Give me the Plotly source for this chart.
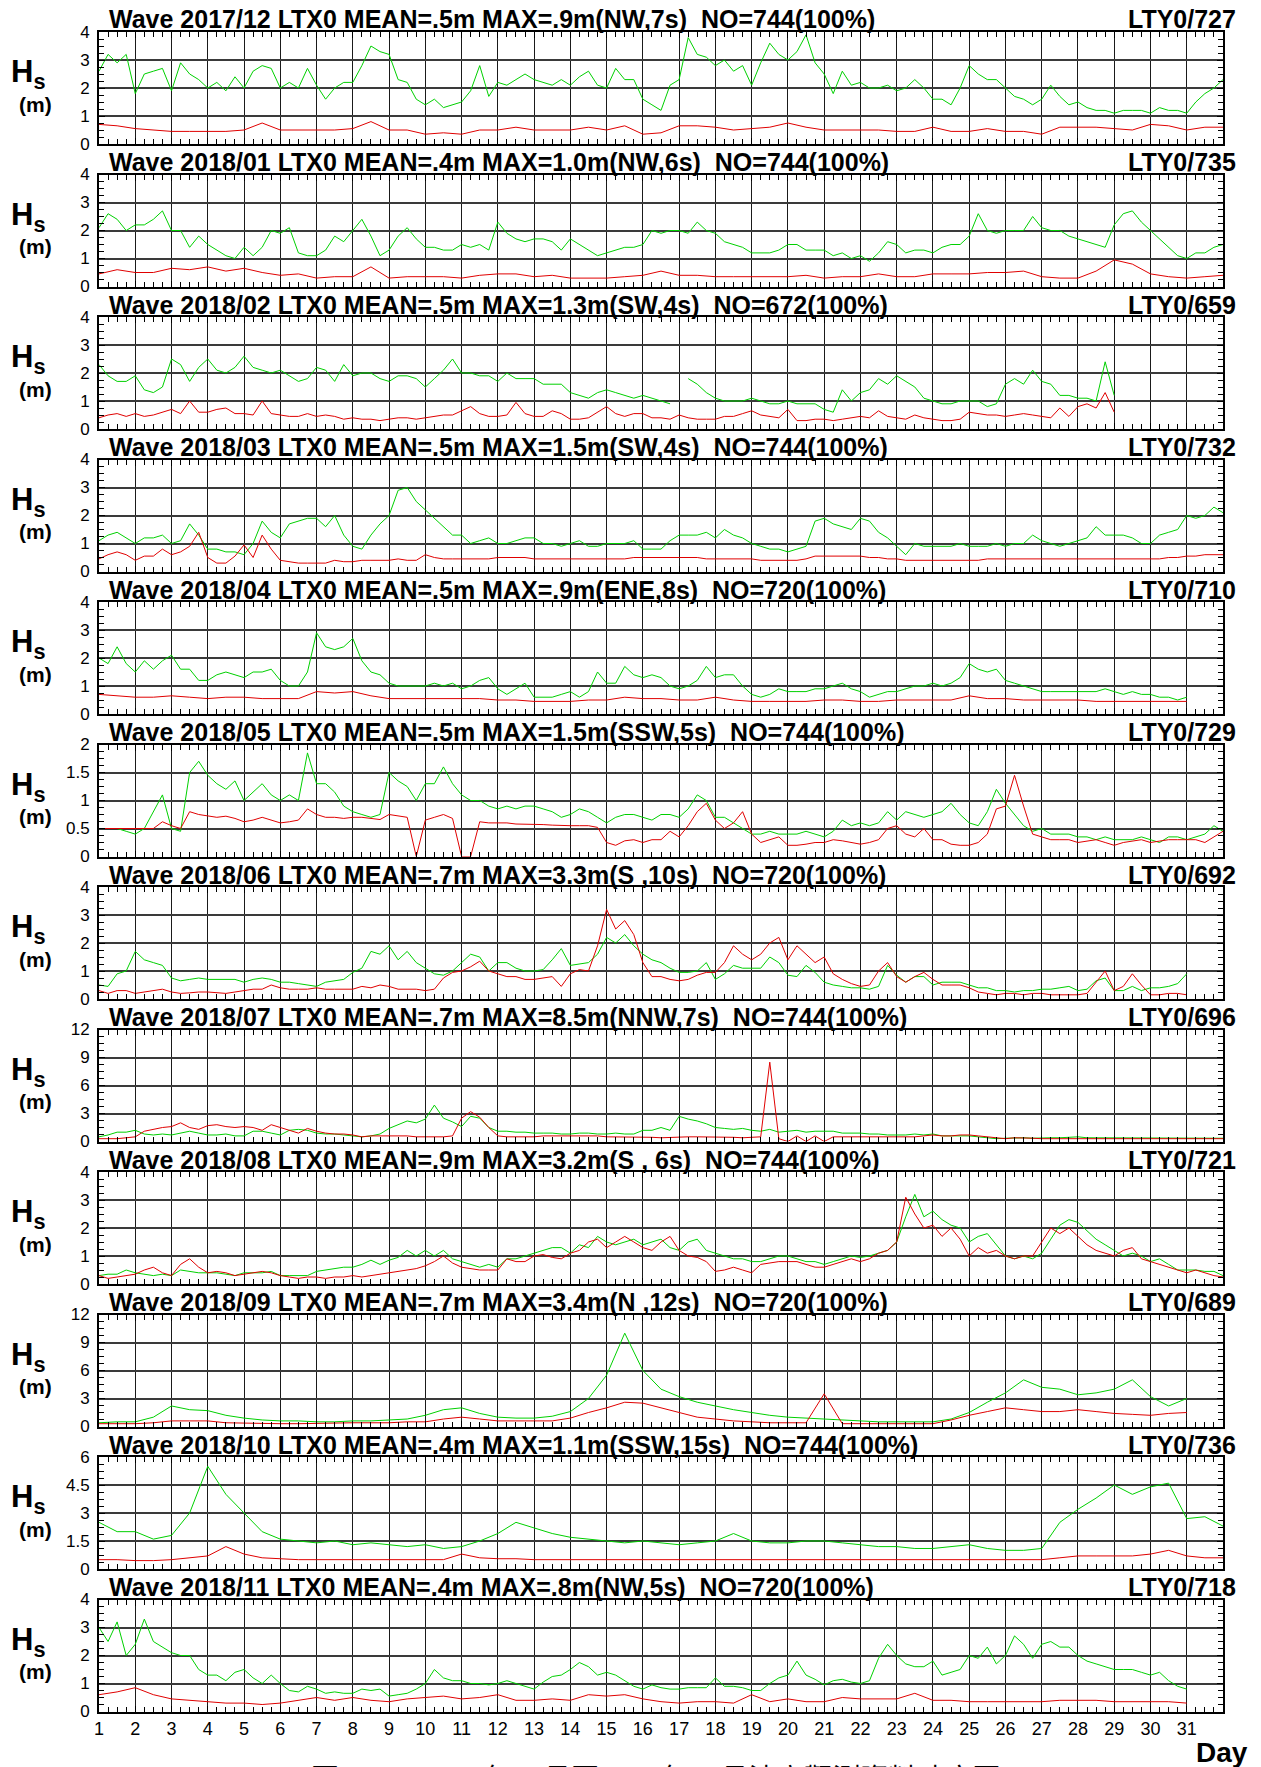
import numpy as np
import plotly.graph_objects as go

# the page body keeps its default 8px margin, so the figure starts at page (8, 8)
OFF = 8
W, H = 1261 - OFF, 1767 - OFF

# ---- panel text ----
LEFT_TITLES = [
    "Wave 2017/12 LTX0 MEAN=.5m MAX=.9m(NW,7s)\u00a0 NO=744(100%)",
    "Wave 2018/01 LTX0 MEAN=.4m MAX=1.0m(NW,6s)\u00a0 NO=744(100%)",
    "Wave 2018/02 LTX0 MEAN=.5m MAX=1.3m(SW,4s)\u00a0 NO=672(100%)",
    "Wave 2018/03 LTX0 MEAN=.5m MAX=1.5m(SW,4s)\u00a0 NO=744(100%)",
    "Wave 2018/04 LTX0 MEAN=.5m MAX=.9m(ENE,8s)\u00a0 NO=720(100%)",
    "Wave 2018/05 LTX0 MEAN=.5m MAX=1.5m(SSW,5s)\u00a0 NO=744(100%)",
    "Wave 2018/06 LTX0 MEAN=.7m MAX=3.3m(S ,10s)\u00a0 NO=720(100%)",
    "Wave 2018/07 LTX0 MEAN=.7m MAX=8.5m(NNW,7s)\u00a0 NO=744(100%)",
    "Wave 2018/08 LTX0 MEAN=.9m MAX=3.2m(S , 6s)\u00a0 NO=744(100%)",
    "Wave 2018/09 LTX0 MEAN=.7m MAX=3.4m(N ,12s)\u00a0 NO=720(100%)",
    "Wave 2018/10 LTX0 MEAN=.4m MAX=1.1m(SSW,15s)\u00a0 NO=744(100%)",
    "Wave 2018/11 LTX0 MEAN=.4m MAX=.8m(NW,5s)\u00a0 NO=720(100%)",
]
RIGHT_TITLES = ["LTY0/727", "LTY0/735", "LTY0/659", "LTY0/732", "LTY0/710", "LTY0/729",
                "LTY0/692", "LTY0/696", "LTY0/721", "LTY0/689", "LTY0/736", "LTY0/718"]
CAPTION = "圖 4.2-1\u00a0\u00a02017年12月至2018年11月波高觀測資料時序圖"

Y_MAX = [4, 4, 4, 4, 4, 2, 4, 12, 4, 12, 6, 4]
Y_TICK_STEP = [1, 1, 1, 1, 1, 0.5, 1, 3, 1, 3, 1.5, 1]
DAY_TICKS = list(range(1, 32))

# ---- series (day 1.0 onward, fixed sampling step per series) ----
G_2017_12 = [2.6, 3.2, 2.9, 3.2, 1.8, 2.5, 2.6, 2.7, 1.9, 2.9, 2.5, 2.3, 2.0, 2.2, 1.9, 2.4,
             2.0, 2.6, 2.8, 2.7, 2.0, 2.2, 2.0, 2.7, 2.1, 1.6, 2.0, 2.2, 2.2, 2.8, 3.5, 3.3,
             3.2, 2.3, 2.2, 1.6, 1.4, 1.6, 1.3, 1.4, 1.5, 1.9, 2.8, 1.7, 2.2, 2.1, 2.3, 2.5,
             2.3, 2.2, 2.1, 2.3, 2.1, 2.4, 2.6, 2.1, 2.0, 2.7, 2.3, 2.3, 1.6, 1.4, 1.2, 2.1,
             2.3, 3.8, 3.2, 3.1, 2.8, 3.0, 2.6, 2.8, 2.1, 2.9, 3.6, 3.2, 3.0, 3.3, 3.9, 2.9,
             2.5, 1.8, 2.6, 2.1, 2.2, 2.0, 2.0, 2.1, 1.9, 2.0, 2.3, 2.0, 1.6, 1.6, 1.4, 2.0,
             2.8, 2.5, 2.3, 2.3, 2.0, 1.7, 1.6, 1.4, 1.6, 2.1, 1.7, 1.4, 1.5, 1.3, 1.2, 1.2,
             1.1, 1.2, 1.2, 1.2, 1.1, 1.3, 1.2, 1.2, 1.1, 1.5, 1.8, 2.0, 2.3]
R_2017_12 = [0.7, 0.65, 0.55, 0.5, 0.45, 0.45, 0.45, 0.45, 0.5, 0.75, 0.5, 0.5, 0.5, 0.5, 0.55, 0.8,
             0.5, 0.5, 0.35, 0.4, 0.35, 0.5, 0.5, 0.6, 0.5, 0.5, 0.5, 0.6, 0.5, 0.65, 0.35, 0.4,
             0.65, 0.65, 0.6, 0.5, 0.55, 0.6, 0.75, 0.6, 0.5, 0.5, 0.5, 0.5, 0.45, 0.45, 0.6, 0.45,
             0.45, 0.55, 0.45, 0.45, 0.35, 0.6, 0.6, 0.6, 0.55, 0.5, 0.7, 0.65, 0.5, 0.6, 0.6]

G_2018_01 = [2.1, 2.6, 2.4, 2.0, 2.2, 2.2, 2.4, 2.7, 2.0, 2.0, 1.4, 1.8, 1.5, 1.3, 1.1, 1.0,
             1.4, 1.1, 1.4, 2.0, 1.9, 2.1, 1.2, 1.1, 1.1, 1.3, 1.8, 1.6, 2.0, 2.4, 1.8, 1.1,
             1.3, 1.8, 2.1, 1.7, 1.4, 1.4, 1.3, 1.3, 1.5, 1.4, 1.5, 1.3, 2.3, 1.9, 1.7, 1.6,
             1.7, 1.7, 1.6, 1.3, 1.7, 1.5, 1.3, 1.1, 1.2, 1.3, 1.4, 1.4, 1.5, 2.0, 1.9, 2.0,
             2.0, 1.9, 2.3, 2.0, 1.9, 1.6, 1.5, 1.4, 1.2, 1.2, 1.2, 1.3, 1.5, 1.5, 1.3, 1.3,
             1.3, 1.1, 1.2, 1.0, 1.1, 0.9, 1.2, 1.6, 1.5, 1.2, 1.3, 1.3, 1.2, 1.4, 1.5, 1.5,
             1.8, 2.6, 2.0, 1.9, 2.0, 2.0, 2.0, 2.5, 2.1, 2.0, 2.0, 1.8, 1.7, 1.6, 1.5, 1.4,
             2.2, 2.6, 2.7, 2.3, 2.0, 1.7, 1.4, 1.1, 1.0, 1.2, 1.2, 1.4, 1.5]
R_2018_01 = [0.45, 0.6, 0.5, 0.5, 0.65, 0.6, 0.7, 0.55, 0.65, 0.5, 0.4, 0.45, 0.3, 0.35, 0.35, 0.7,
             0.3, 0.35, 0.35, 0.35, 0.3, 0.4, 0.45, 0.45, 0.35, 0.4, 0.3, 0.3, 0.3, 0.35, 0.4, 0.55,
             0.4, 0.4, 0.35, 0.35, 0.35, 0.35, 0.35, 0.4, 0.3, 0.35, 0.35, 0.45, 0.35, 0.35, 0.45, 0.45,
             0.45, 0.5, 0.5, 0.55, 0.35, 0.3, 0.3, 0.55, 0.95, 0.8, 0.45, 0.35, 0.3, 0.35, 0.4]

G_2018_02 = [2.3, 1.9, 1.7, 1.7, 1.9, 1.4, 1.3, 1.5, 2.5, 2.3, 1.7, 2.2, 2.5, 2.1, 2.0, 2.2,
             2.6, 2.2, 2.1, 2.0, 2.1, 1.9, 1.7, 1.8, 2.2, 2.1, 1.7, 2.3, 1.9, 2.0, 2.0, 1.8,
             1.7, 1.9, 1.9, 1.8, 1.5, 1.8, 2.1, 2.5, 2.0, 2.0, 1.9, 1.9, 1.7, 2.0, 1.8, 1.8,
             1.8, 1.6, 1.6, 1.6, 1.3, 1.2, 1.1, 1.3, 1.4, 1.3, 1.2, 1.1, 1.2, 1.1, 1.0, 0.9,
             None, 1.8, 1.6, 1.3, 1.1, 1.0, 1.0, 1.0, 1.1, 1.0, 0.9, 0.9, 1.0, 0.9, 0.9, 0.9,
             0.7, 0.6, 1.4, 1.0, 1.3, 1.4, 1.8, 1.6, 1.9, 1.7, 1.5, 1.1, 1.0, 0.9, 0.9, 1.0,
             1.0, 1.0, 0.8, 0.9, 1.6, 1.8, 1.6, 2.1, 1.7, 1.6, 1.2, 1.2, 1.1, 1.1, 1.0, 2.4, 1.2]
R_2018_02 = [0.4, 0.5, 0.55, 0.45, 0.55, 0.45, 0.5, 0.6, 0.7, 0.55, 1.0, 0.6, 0.6, 0.7, 0.75, 0.55,
             0.55, 0.5, 1.0, 0.55, 0.5, 0.45, 0.45, 0.55, 0.45, 0.5, 0.45, 0.35, 0.4, 0.35, 0.35, 0.3,
             0.35, 0.4, 0.4, 0.35, 0.4, 0.45, 0.5, 0.5, 0.65, 0.8, 0.55, 0.45, 0.45, 0.5, 0.95, 0.55,
             0.45, 0.45, 0.65, 0.55, 0.35, 0.35, 0.4, 0.6, 0.8, 0.55, 0.45, 0.55, 0.55, 0.4, 0.4, 0.35,
             0.5, 0.4, 0.35, 0.35, 0.35, 0.45, 0.45, 0.55, 0.65, 0.5, 0.45, 0.4, 0.7, 0.3, 0.3, 0.35,
             0.35, 0.3, 0.35, 0.4, 0.45, 0.4, 0.65, 0.45, 0.4, 0.35, 0.5, 0.4, 0.35, 0.3, 0.3, 0.35,
             0.6, 0.55, 0.5, 0.5, 0.45, 0.5, 0.55, 0.5, 0.45, 0.4, 0.75, 0.45, 0.8, 0.9, 0.75, 1.3, 0.6]

G_2018_03 = [1.1, 1.3, 1.4, 1.2, 1.0, 1.2, 1.2, 1.3, 1.0, 1.1, 1.7, 1.3, 0.8, 0.8, 0.7, 0.7,
             0.6, 1.0, 1.8, 1.4, 1.2, 1.7, 1.8, 1.9, 1.9, 1.6, 2.0, 1.3, 0.9, 0.8, 1.3, 1.7,
             2.0, 2.9, 3.0, 2.5, 2.2, 1.9, 1.6, 1.3, 1.3, 1.0, 1.1, 1.2, 1.0, 1.0, 1.1, 1.2,
             1.2, 1.0, 1.0, 0.9, 1.0, 1.1, 0.9, 0.9, 1.0, 1.0, 1.0, 1.1, 0.8, 0.8, 0.8, 1.1,
             1.3, 1.3, 1.3, 1.4, 1.2, 1.5, 1.3, 1.2, 1.0, 0.9, 0.8, 0.8, 0.7, 0.8, 0.9, 1.8,
             1.9, 1.7, 1.6, 1.5, 1.9, 1.8, 1.4, 1.2, 0.9, 0.6, 1.0, 0.9, 0.9, 0.9, 0.9, 1.0,
             0.9, 0.9, 0.9, 1.0, 0.9, 1.0, 1.0, 1.3, 1.1, 1.0, 0.9, 1.0, 1.1, 1.2, 1.6, 1.3,
             1.3, 1.3, 1.2, 1.0, 1.0, 1.3, 1.4, 1.5, 2.0, 1.9, 2.0, 2.3, 2.1]
R_2018_03 = [0.45, 0.6, 0.7, 0.6, 0.4, 0.55, 0.55, 0.8, 0.6, 0.7, 0.9, 1.4, 0.5, 0.3, 0.3, 0.55,
             0.95, 0.5, 1.3, 0.8, 0.4, 0.35, 0.3, 0.3, 0.3, 0.3, 0.4, 0.35, 0.35, 0.4, 0.4, 0.4,
             0.4, 0.45, 0.4, 0.4, 0.6, 0.5, 0.45, 0.45, 0.45, 0.45, 0.45, 0.45, 0.5, 0.5, 0.5, 0.5,
             0.45, 0.45, 0.45, 0.45, 0.45, 0.45, 0.45, 0.45, 0.45, 0.45, 0.45, 0.5, 0.5, 0.5, 0.5, 0.5,
             0.5, 0.5, 0.5, 0.45, 0.45, 0.45, 0.45, 0.45, 0.45, 0.4, 0.4, 0.4, 0.4, 0.4, 0.45, 0.55,
             0.55, 0.55, 0.55, 0.55, 0.55, 0.5, 0.5, 0.45, 0.45, 0.4, 0.4, 0.4, 0.4, 0.4, 0.4, 0.4,
             0.4, 0.4, 0.45, 0.45, 0.45, 0.45, 0.45, 0.45, 0.45, 0.45, 0.45, 0.45, 0.45, 0.45, 0.45, 0.45,
             0.45, 0.45, 0.45, 0.45, 0.45, 0.45, 0.5, 0.5, 0.55, 0.55, 0.6, 0.6, 0.6]

G_2018_04 = [2.0, 1.8, 2.4, 1.8, 1.5, 1.9, 1.6, 1.9, 2.1, 1.6, 1.6, 1.2, 1.2, 1.4, 1.5, 1.4,
             1.3, 1.5, 1.5, 1.6, 1.2, 1.0, 1.0, 1.5, 2.9, 2.4, 2.3, 2.4, 2.7, 1.9, 1.5, 1.4,
             1.1, 1.0, 1.0, 1.0, 1.0, 1.1, 1.0, 1.1, 0.9, 1.0, 1.2, 1.3, 0.9, 0.7, 0.9, 1.1,
             0.6, 0.6, 0.6, 0.7, 0.8, 0.6, 0.8, 1.5, 1.1, 1.1, 1.7, 1.4, 1.3, 1.4, 1.3, 1.0,
             0.9, 1.0, 1.2, 1.7, 1.3, 1.4, 1.4, 1.0, 0.7, 0.6, 0.7, 0.9, 0.8, 0.8, 0.8, 0.9,
             0.9, 1.0, 1.1, 0.9, 0.8, 0.6, 0.7, 0.8, 0.8, 0.9, 1.0, 1.0, 1.1, 1.0, 1.1, 1.3,
             1.8, 1.6, 1.5, 1.6, 1.2, 1.1, 1.0, 0.9, 0.8, 0.8, 0.8, 0.8, 0.8, 0.8, 0.8, 0.9,
             0.8, 0.7, 0.8, 0.7, 0.7, 0.6, 0.6, 0.5, 0.6]
R_2018_04 = [0.7, 0.65, 0.6, 0.6, 0.65, 0.6, 0.55, 0.6, 0.6, 0.55, 0.55, 0.55, 0.8, 0.75, 0.8, 0.65,
             0.55, 0.55, 0.55, 0.55, 0.55, 0.55, 0.5, 0.5, 0.45, 0.45, 0.45, 0.5, 0.5, 0.6, 0.55, 0.55,
             0.5, 0.5, 0.6, 0.5, 0.45, 0.45, 0.45, 0.45, 0.5, 0.5, 0.45, 0.45, 0.5, 0.5, 0.5, 0.5,
             0.65, 0.55, 0.55, 0.5, 0.5, 0.5, 0.5, 0.45, 0.45, 0.45, 0.45, 0.45, 0.45]

G_2018_05 = [0.5, 0.5, 0.5, 0.45, 0.4, 0.5, 0.8, 1.1, 0.5, 0.45, 1.5, 1.7, 1.45, 1.3, 1.2, 1.35,
             1.0, 1.15, 1.3, 1.1, 1.0, 1.1, 1.0, 1.85, 1.3, 1.3, 1.15, 0.9, 0.8, 0.75, 0.7, 0.75,
             1.5, 1.35, 1.25, 1.0, 1.3, 1.3, 1.6, 1.3, 1.1, 1.0, 1.0, 0.9, 0.85, 0.9, 0.85, 0.9,
             0.9, 0.85, 0.8, 0.7, 0.75, 0.85, 0.8, 0.7, 0.6, 0.7, 0.75, 0.75, 0.7, 0.65, 0.75, 0.75,
             0.7, 0.85, 1.1, 1.0, 0.7, 0.7, 0.6, 0.5, 0.4, 0.4, 0.45, 0.4, 0.4, 0.4, 0.45, 0.4,
             0.35, 0.45, 0.65, 0.55, 0.6, 0.55, 0.6, 0.8, 0.65, 0.8, 0.75, 0.7, 0.75, 0.8, 0.95, 0.75,
             0.6, 0.55, 0.8, 1.2, 0.95, 0.75, 0.55, 0.45, 0.5, 0.4, 0.4, 0.4, 0.35, 0.35, 0.3, 0.35,
             0.3, 0.3, 0.3, 0.35, 0.3, 0.25, 0.35, 0.35, 0.3, 0.35, 0.4, 0.55, 0.45]
R_2018_05 = [0.5, 0.5, 0.5, 0.5, 0.5, 0.5, 0.5, 0.62, 0.55, 0.5, 0.8, 0.75, 0.72, 0.7, 0.72, 0.68,
             0.62, 0.65, 0.7, 0.65, 0.6, 0.62, 0.65, 0.85, 0.75, 0.7, 0.7, 0.68, 0.7, 0.7, 0.68, 0.66,
             0.75, 0.72, 0.7, 0.0, 0.65, 0.7, 0.75, 0.68, 0.0, 0.0, 0.62, 0.6, 0.6, 0.6, 0.58, 0.58,
             0.58, 0.57, 0.56, 0.55, 0.55, 0.55, 0.55, 0.52, 0.25, 0.2, 0.28, 0.3, 0.25, 0.3, 0.3, 0.45,
             0.35, 0.55, 0.8, 0.95, 0.65, 0.5, 0.6, 0.8, 0.4, 0.25, 0.3, 0.35, 0.2, 0.2, 0.22, 0.25,
             0.25, 0.3, 0.28, 0.25, 0.22, 0.25, 0.3, 0.5, 0.55, 0.4, 0.35, 0.5, 0.3, 0.3, 0.22, 0.2,
             0.2, 0.25, 0.4, 0.85, 0.9, 1.45, 0.9, 0.4, 0.35, 0.3, 0.3, 0.3, 0.25, 0.28, 0.3, 0.25,
             0.2, 0.25, 0.28, 0.3, 0.25, 0.28, 0.3, 0.3, 0.3, 0.3, 0.25, 0.35, 0.45]

G_2018_06 = [0.5, 0.45, 0.9, 1.0, 1.7, 1.4, 1.3, 1.2, 0.75, 0.65, 0.7, 0.75, 0.7, 0.7, 0.7, 0.7,
             0.6, 0.7, 0.75, 0.7, 0.6, 0.6, 0.55, 0.5, 0.45, 0.6, 0.65, 0.7, 0.95, 1.1, 1.7, 1.6,
             1.9, 1.4, 1.7, 1.3, 1.1, 0.9, 0.85, 1.0, 1.3, 1.6, 1.5, 1.0, 1.3, 1.3, 1.1, 1.0,
             1.0, 1.05, 1.4, 1.8, 1.2, 1.25, 1.3, 1.6, 2.2, 2.0, 2.3, 1.9, 1.6, 1.4, 1.3, 1.1,
             0.95, 0.95, 1.0, 1.3, 0.7, 0.9, 1.2, 1.1, 1.1, 1.1, 1.5, 1.3, 0.85, 0.8, 1.2, 0.95,
             0.6, 0.5, 0.45, 0.4, 0.4, 0.35, 0.45, 1.2, 0.85, 0.6, 0.8, 0.8, 0.5, 0.6, 0.6, 0.6,
             0.5, 0.4, 0.4, 0.3, 0.3, 0.25, 0.3, 0.3, 0.35, 0.35, 0.4, 0.45, 0.3, 0.35, 0.65, 0.75,
             0.3, 0.3, 0.45, 0.3, 0.4, 0.4, 0.45, 0.55, 0.9]
R_2018_06 = [0.3, 0.2, 0.3, 0.3, 0.2, 0.25, 0.3, 0.35, 0.25, 0.2, 0.22, 0.25, 0.25, 0.22, 0.2, 0.25,
             0.3, 0.35, 0.35, 0.5, 0.4, 0.35, 0.35, 0.35, 0.4, 0.35, 0.35, 0.35, 0.35, 0.45, 0.4, 0.5,
             0.45, 0.35, 0.35, 0.35, 0.3, 0.35, 0.75, 0.95, 1.0, 1.15, 1.35, 1.0, 0.9, 0.8, 0.8, 0.7,
             0.7, 0.75, 0.8, 0.45, 0.9, 1.05, 1.0, 1.9, 3.2, 2.5, 2.8, 2.3, 1.3, 0.8, 0.8, 0.7,
             0.65, 0.7, 0.85, 0.95, 0.95, 1.3, 1.9, 1.6, 1.4, 1.6, 2.0, 2.2, 1.4, 1.9, 1.6, 1.3,
             1.5, 0.9, 0.7, 0.55, 0.45, 0.5, 1.0, 1.3, 0.8, 0.6, 0.8, 0.95, 0.7, 0.5, 0.5, 0.5,
             0.4, 0.25, 0.2, 0.15, 0.2, 0.2, 0.15, 0.2, 0.2, 0.15, 0.15, 0.15, 0.15, 0.2, 0.6, 1.0,
             0.3, 0.45, 0.9, 0.5, 0.15, 0.15, 0.2, 0.2, 0.15]

G_2018_07 = [0.5, 0.7, 1.0, 1.0, 1.2, 0.8, 0.7, 0.8, 0.7, 0.9, 1.1, 0.9, 0.7, 0.7, 0.8, 0.6,
             0.6, 1.1, 1.1, 0.9, 0.7, 1.2, 1.3, 1.2, 0.9, 0.8, 0.8, 0.7, 0.6, 0.5, 0.6, 0.8,
             1.4, 1.8, 2.2, 2.0, 2.4, 3.9, 2.5, 2.1, 1.6, 2.7, 2.5, 1.5, 1.1, 1.1, 1.0, 1.0,
             0.9, 0.9, 0.9, 0.8, 0.8, 0.9, 0.9, 0.8, 0.8, 0.9, 0.8, 0.8, 1.2, 1.2, 1.5, 1.2,
             2.7, 2.4, 2.2, 1.9, 1.5, 1.4, 1.3, 1.4, 1.2, 1.1, 1.3, 1.0, 1.1, 1.2, 1.0, 1.1,
             1.1, 1.1, 0.9, 0.9, 0.9, 0.8, 0.8, 0.7, 0.7, 0.7, 0.8, 0.7, 0.8, 0.6, 0.6, 0.6,
             0.6, 0.5, 0.4, 0.3, 0.35, 0.4, 0.4, 0.35, 0.4, 0.4, 0.4, 0.45, 0.5, 0.4, 0.4, 0.35,
             0.35, 0.4, 0.4, 0.4, 0.35, 0.35, 0.35, 0.35, 0.35, 0.35, 0.35, 0.35, 0.35]
R_2018_07 = [0.3, 0.3, 0.3, 0.4, 0.5, 1.1, 1.3, 1.5, 1.6, 2.0, 1.5, 1.3, 1.7, 1.8, 1.6, 1.5,
             1.6, 1.5, 1.2, 1.8, 1.5, 1.2, 0.9, 1.4, 1.1, 0.9, 0.8, 0.8, 0.7, 0.5, 0.6, 0.6,
             0.6, 0.6, 0.6, 0.5, 0.5, 0.5, 0.5, 0.6, 2.5, 3.2, 2.6, 1.5, 0.6, 0.5, 0.5, 0.5,
             0.5, 0.6, 0.6, 0.6, 0.6, 0.6, 0.6, 0.6, 0.5, 0.5, 0.5, 0.5, 0.45, 0.45, 0.4, 0.45,
             0.5, 0.5, 0.5, 0.5, 0.5, 0.5, 0.45, 0.4, 0.45, 0.5, 8.5, 0.3, 0.0, 0.6, 0.0, 0.6,
             0.0, 0.5, 0.5, 0.5, 0.5, 0.5, 0.5, 0.5, 0.5, 0.5, 0.5, 0.6, 0.7, 0.6, 0.6, 0.7,
             0.7, 0.6, 0.5, 0.4, 0.3, 0.4, 0.4, 0.35, 0.3, 0.3, 0.3, 0.3, 0.3, 0.3, 0.3, 0.3,
             0.3, 0.3, 0.3, 0.3, 0.25, 0.25, 0.3, 0.3, 0.3, 0.3, 0.3, 0.3, 0.3]

G_2018_08 = [0.3, 0.35, 0.35, 0.5, 0.4, 0.35, 0.3, 0.35, 0.3, 0.5, 0.45, 0.4, 0.4, 0.4, 0.35, 0.3,
             0.4, 0.4, 0.4, 0.45, 0.3, 0.3, 0.3, 0.3, 0.45, 0.5, 0.55, 0.6, 0.6, 0.7, 0.85, 0.7,
             0.85, 0.95, 1.2, 1.0, 1.2, 1.0, 1.2, 0.9, 0.8, 0.7, 0.6, 0.7, 0.6, 0.9, 0.9, 1.0,
             1.1, 1.2, 1.3, 1.3, 1.1, 1.4, 1.3, 1.7, 1.5, 1.4, 1.5, 1.6, 1.4, 1.5, 1.6, 1.3,
             1.2, 1.5, 1.6, 1.2, 1.1, 1.0, 0.9, 0.9, 0.8, 0.8, 0.9, 1.0, 1.0, 0.9, 0.8, 0.8,
             0.7, 0.8, 0.9, 1.0, 0.95, 1.0, 1.1, 1.2, 1.5, 2.4, 3.2, 2.4, 2.6, 2.3, 2.1, 2.0,
             1.5, 1.7, 1.8, 1.4, 1.0, 0.9, 1.0, 0.9, 1.1, 1.6, 2.1, 2.3, 2.2, 1.9, 1.6, 1.4,
             1.2, 1.0, 1.1, 1.0, 0.8, 0.9, 0.7, 0.5, 0.5, 0.5, 0.45, 0.45, 0.3]
R_2018_08 = [0.3, 0.2, 0.25, 0.3, 0.35, 0.5, 0.6, 0.4, 0.3, 0.7, 0.9, 0.6, 0.4, 0.45, 0.4, 0.3,
             0.35, 0.4, 0.45, 0.4, 0.3, 0.25, 0.2, 0.25, 0.25, 0.2, 0.25, 0.25, 0.3, 0.25, 0.3, 0.35,
             0.4, 0.45, 0.5, 0.55, 0.65, 0.8, 1.0, 0.75, 0.6, 0.55, 0.5, 0.5, 0.5, 0.9, 0.8, 0.8,
             1.0, 1.05, 0.95, 0.9, 1.1, 1.2, 1.5, 1.6, 1.3, 1.5, 1.7, 1.5, 1.3, 1.2, 1.5, 1.7,
             1.2, 1.0, 0.95, 0.8, 0.45, 0.5, 0.6, 0.5, 0.4, 0.7, 0.75, 0.8, 0.8, 0.8, 0.7, 0.6,
             0.6, 0.7, 0.8, 0.9, 0.8, 0.9, 1.1, 1.2, 1.5, 3.1, 2.5, 2.0, 2.1, 1.7, 2.0, 1.6,
             1.0, 1.3, 1.1, 1.2, 1.0, 0.9, 1.0, 1.0, 1.5, 2.0, 1.8, 2.0, 1.7, 1.4, 1.2, 1.1,
             1.0, 1.2, 1.3, 0.9, 0.8, 0.7, 0.6, 0.5, 0.4, 0.5, 0.4, 0.3, 0.25]

G_2018_09 = [0.4, 0.5, 0.5, 1.0, 2.2, 1.8, 1.7, 1.2, 0.9, 0.7, 0.6, 0.6, 0.5, 0.5, 0.6, 0.6,
             0.7, 0.8, 1.2, 1.8, 2.0, 1.4, 1.0, 0.9, 0.9, 1.1, 1.6, 3.0, 5.5, 10.0, 6.0, 4.0,
             3.2, 2.6, 2.2, 1.8, 1.5, 1.2, 1.0, 0.9, 0.8, 0.7, 0.6, 0.5, 0.5, 0.5, 0.5, 0.8,
             1.5, 2.6, 3.6, 5.0, 4.2, 4.0, 3.4, 3.6, 4.0, 5.0, 3.2, 2.2, 3.0]
R_2018_09 = [0.3, 0.3, 0.3, 0.4, 0.6, 0.6, 0.6, 0.4, 0.35, 0.3, 0.3, 0.3, 0.35, 0.4, 0.4, 0.4,
             0.4, 0.5, 0.5, 0.8, 1.0, 0.8, 0.6, 0.6, 0.6, 0.6, 0.9, 1.5, 2.0, 2.6, 2.5, 2.0,
             1.5, 1.0, 0.8, 0.6, 0.5, 0.4, 0.4, 0.4, 3.5, 0.3, 0.3, 0.3, 0.3, 0.3, 0.3, 0.7,
             1.2, 1.6, 2.0, 1.8, 1.6, 1.6, 1.8, 1.6, 1.4, 1.3, 1.2, 1.4, 1.5]

G_2018_10 = [2.5, 2.0, 2.0, 1.6, 1.8, 3.0, 5.5, 4.0, 3.0, 2.0, 1.6, 1.5, 1.4, 1.5, 1.3, 1.4,
             1.3, 1.2, 1.3, 1.1, 1.2, 1.5, 1.9, 2.5, 2.2, 1.9, 1.7, 1.6, 1.5, 1.4, 1.5, 1.4,
             1.3, 1.4, 1.5, 1.9, 1.5, 1.4, 1.4, 1.5, 1.5, 1.4, 1.3, 1.2, 1.2, 1.1, 1.1, 1.2,
             1.3, 1.1, 1.0, 1.0, 1.1, 2.5, 3.2, 3.8, 4.5, 4.0, 4.4, 4.6, 2.7, 2.8, 2.3]
R_2018_10 = [0.5, 0.5, 0.45, 0.45, 0.5, 0.6, 0.7, 1.2, 0.8, 0.6, 0.55, 0.5, 0.5, 0.5, 0.5, 0.5,
             0.5, 0.5, 0.5, 0.5, 0.8, 0.6, 0.55, 0.55, 0.5, 0.5, 0.5, 0.5, 0.5, 0.5, 0.5, 0.5,
             0.5, 0.5, 0.5, 0.5, 0.5, 0.5, 0.5, 0.5, 0.5, 0.5, 0.5, 0.5, 0.5, 0.5, 0.5, 0.5,
             0.5, 0.5, 0.5, 0.5, 0.5, 0.6, 0.7, 0.7, 0.7, 0.7, 0.8, 1.0, 0.7, 0.6, 0.6]

G_2018_11 = [3.0, 2.5, 3.2, 2.0, 2.4, 3.3, 2.5, 2.3, 2.1, 2.0, 2.0, 1.5, 1.3, 1.3, 1.1, 1.4,
             1.5, 1.2, 1.0, 1.3, 1.0, 0.75, 0.7, 0.9, 0.8, 0.65, 0.7, 0.65, 0.65, 0.8, 0.75, 0.8,
             0.55, 0.6, 0.65, 0.8, 1.0, 1.5, 1.2, 1.1, 1.1, 1.0, 1.0, 0.95, 1.0, 1.1, 1.0, 0.9,
             0.8, 1.05, 1.25, 1.3, 1.5, 1.75, 1.6, 1.3, 1.4, 1.3, 1.1, 0.9, 0.8, 0.95, 0.85, 0.8,
             0.8, 0.85, 0.85, 0.85, 1.2, 0.9, 0.9, 0.85, 0.75, 0.75, 1.0, 1.2, 1.3, 1.8, 1.3, 1.15,
             0.95, 1.1, 1.15, 1.05, 1.0, 1.1, 1.9, 2.4, 2.0, 1.7, 1.6, 1.6, 1.8, 1.3, 1.4, 1.5,
             2.0, 1.9, 2.3, 1.7, 2.0, 2.7, 2.4, 1.9, 2.4, 2.5, 2.3, 2.3, 2.0, 1.8, 1.7, 1.6,
             1.5, 1.5, 1.5, 1.4, 1.3, 1.4, 1.1, 0.9, 0.8]
R_2018_11 = [0.6, 0.7, 0.85, 0.6, 0.45, 0.4, 0.35, 0.3, 0.3, 0.25, 0.3, 0.4, 0.5, 0.4, 0.5, 0.4,
             0.35, 0.45, 0.5, 0.55, 0.45, 0.5, 0.6, 0.4, 0.4, 0.45, 0.4, 0.6, 0.55, 0.6, 0.45, 0.35,
             0.3, 0.35, 0.35, 0.3, 0.6, 0.35, 0.45, 0.35, 0.35, 0.5, 0.45, 0.45, 0.45, 0.65, 0.4, 0.4,
             0.35, 0.35, 0.35, 0.35, 0.35, 0.4, 0.4, 0.4, 0.35, 0.35, 0.35, 0.35, 0.3]

GREEN = [G_2017_12, G_2018_01, G_2018_02, G_2018_03, G_2018_04, G_2018_05,
         G_2018_06, G_2018_07, G_2018_08, G_2018_09, G_2018_10, G_2018_11]
RED = [R_2017_12, R_2018_01, R_2018_02, R_2018_03, R_2018_04, R_2018_05,
       R_2018_06, R_2018_07, R_2018_08, R_2018_09, R_2018_10, R_2018_11]
GREEN_STEP = [0.25, 0.25, 0.25, 0.25, 0.25, 0.25, 0.25, 0.25, 0.25, 0.5, 0.5, 0.25]
RED_STEP = [0.5, 0.5, 0.25, 0.25, 0.5, 0.25, 0.25, 0.25, 0.25, 0.5, 0.5, 0.5]

GREEN_C = "#00d000"
RED_C = "#e00000"
FONT = "Liberation Sans, Arial, sans-serif"

# ---- geometry (page pixels) ----
PLOT_L, PLOT_R = 99, 1223
TOP0, PANEL_H, PITCH = 32, 112, 142.5


def px_x(p):
    return (p - OFF) / W


def px_y(p):
    return 1 - (p - OFF) / H


fig = go.Figure()
layout = dict(
    width=W, height=H, margin=dict(l=0, r=0, t=0, b=0, pad=0, autoexpand=False),
    paper_bgcolor="white", plot_bgcolor="white", showlegend=False,
    font=dict(family=FONT, color="black"),
)
annotations = []

for k in range(12):
    sfx = "" if k == 0 else str(k + 1)
    top = TOP0 + PITCH * k
    bot = top + PANEL_H
    last = k == 11
    ymax = Y_MAX[k]
    ystep = Y_TICK_STEP[k]
    yvals = [ystep * i for i in range(5)]
    ytext = [("%g" % v) for v in yvals]

    layout["xaxis" + sfx] = dict(
        domain=[px_x(PLOT_L), px_x(PLOT_R)], anchor="y" + sfx, range=[1, 32],
        tickmode="array", tickvals=DAY_TICKS + [32],
        ticktext=[str(d) for d in DAY_TICKS] + [""],
        showticklabels=last, ticks="inside", ticklen=6, tickcolor="black",
        showgrid=True, gridcolor="#1a1a1a", gridwidth=1,
        showline=True, linecolor="black", linewidth=2, mirror="allticks",
        zeroline=False, automargin=False, tickfont=dict(size=18, family=FONT),
        minor=dict(dtick=0.25, tick0=1, ticks="inside", ticklen=5, tickcolor="black", showgrid=False),
    )
    layout["yaxis" + sfx] = dict(
        domain=[px_y(bot), px_y(top)], anchor="x" + sfx, range=[0, ymax],
        tickmode="array", tickvals=yvals, ticktext=ytext,
        ticks="inside", ticklen=6, tickcolor="black", ticklabelstandoff=4,
        showgrid=True, gridcolor="#3a3a3a", gridwidth=1.5,
        showline=True, linecolor="black", linewidth=2, mirror="allticks",
        zeroline=False, automargin=False, tickfont=dict(size=17, family=FONT),
        minor=dict(dtick=ystep / 4, tick0=0, ticks="inside", ticklen=5, tickcolor="black", showgrid=False),
    )

    g = GREEN[k]
    r = RED[k]
    fig.add_trace(go.Scatter(
        x=1 + GREEN_STEP[k] * np.arange(len(g)), y=g, mode="lines",
        line=dict(color=GREEN_C, width=1), connectgaps=False,
        xaxis="x" + sfx, yaxis="y" + sfx, hoverinfo="skip"))
    fig.add_trace(go.Scatter(
        x=1 + RED_STEP[k] * np.arange(len(r)), y=r, mode="lines",
        line=dict(color=RED_C, width=1), connectgaps=False,
        xaxis="x" + sfx, yaxis="y" + sfx, hoverinfo="skip"))

    # panel titles
    annotations.append(dict(
        text="<b>%s</b>" % LEFT_TITLES[k], x=px_x(107), y=px_y(top - 12.5),
        xref="paper", yref="paper", xanchor="left", yanchor="middle",
        showarrow=False, font=dict(size=25, family=FONT)))
    annotations.append(dict(
        text="<b>%s</b>" % RIGHT_TITLES[k], x=px_x(1238), y=px_y(top - 12.5),
        xref="paper", yref="paper", xanchor="right", yanchor="middle",
        showarrow=False, font=dict(size=25, family=FONT)))
    # Hs (m)
    annotations.append(dict(
        text="<b>H<sub>s</sub></b>", x=px_x(9), y=px_y(top + 42),
        xref="paper", yref="paper", xanchor="left", yanchor="middle",
        showarrow=False, font=dict(size=31, family=FONT)))
    annotations.append(dict(
        text="<b>(m)</b>", x=px_x(35), y=px_y(top + 72),
        xref="paper", yref="paper", xanchor="center", yanchor="middle",
        showarrow=False, font=dict(size=21, family=FONT)))

annotations.append(dict(
    text="<b>Day</b>", x=px_x(1250), y=px_y(1752),
    xref="paper", yref="paper", xanchor="right", yanchor="middle",
    showarrow=False, font=dict(size=28, family=FONT)))
# figure caption, cut by the bottom edge of the page as in the source
annotations.append(dict(
    text=CAPTION, x=px_x(655), y=px_y(1777),
    xref="paper", yref="paper", xanchor="center", yanchor="middle",
    showarrow=False, font=dict(size=28, family="Noto Sans CJK TC")))

layout["annotations"] = annotations
layout["shapes"] = [dict(type="line", xref="paper", yref="paper",
                         x0=px_x(1259.5), x1=px_x(1259.5), y0=0, y1=1,
                         line=dict(color="#e00000", width=2))]
fig.update_layout(**layout)
fig.write_html("out.html")
